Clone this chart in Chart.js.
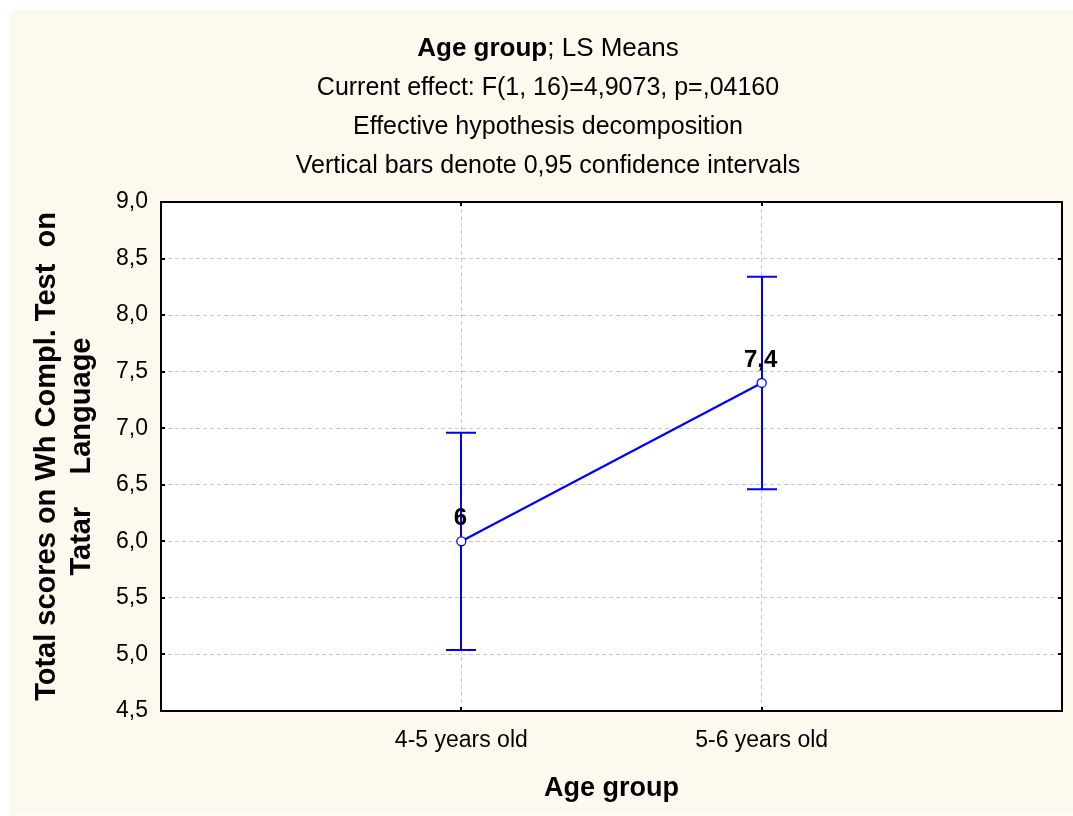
<!DOCTYPE html>
<html lang="en">
<head>
    <meta charset="UTF-8">
    <title>Age group; LS Means</title>
    <style type="text/css">
        html, body { margin: 0; padding: 0; background: #ffffff; }
        .chartBox { width: 1073px; height: 816px; }
    </style>
</head>
<body>
    <div class="chartBox">
        <canvas id="myChart" width="1073" height="816"></canvas>
    </div>

    <script src="https://cdn.jsdelivr.net/npm/chart.js"></script>

    <script>
        // data
        const categories = ['4-5 years old', '5-6 years old'];
        const means = [6.0, 7.4];
        const lower = [5.04, 6.46];
        const upper = [6.96, 8.34];
        const yTicks = [4.5, 5.0, 5.5, 6.0, 6.5, 7.0, 7.5, 8.0, 8.5, 9.0];
        const titleLines = [
          'Current effect: F(1, 16)=4,9073, p=,04160',
          'Effective hypothesis decomposition',
          'Vertical bars denote 0,95 confidence intervals'
        ];

        const fmt = v => v.toFixed(1).replace('.', ',');
        const font = '"Liberation Sans", Arial, sans-serif';

        const points = means.map((m, i) => ({x: i + 1, y: m}));

        // cream page, white plot area, frame, inner ticks, header, error bars, value labels
        const decor = {
          id: 'decor',
          beforeDraw(chart) {
            const c = chart.ctx, a = chart.chartArea;
            c.save();
            c.fillStyle = '#ffffff';
            c.fillRect(0, 0, chart.width, chart.height);
            c.fillStyle = '#fef9ee';
            c.fillRect(9, 10, chart.width - 9, chart.height - 11);
            c.fillStyle = '#ffffff';
            c.fillRect(a.left, a.top, a.right - a.left, a.bottom - a.top);
            c.restore();
          },
          beforeDatasetsDraw(chart) {
            const c = chart.ctx, xs = chart.scales.x, ys = chart.scales.y;
            c.save();
            c.strokeStyle = '#0000ff';
            c.lineWidth = 2;
            lower.forEach((lo, i) => {
              const px = Math.round(xs.getPixelForValue(i + 1));
              const yl = ys.getPixelForValue(lo), yu = ys.getPixelForValue(upper[i]);
              c.beginPath();
              c.moveTo(px, yl); c.lineTo(px, yu);
              c.moveTo(px - 15, yl); c.lineTo(px + 15, yl);
              c.moveTo(px - 15, yu); c.lineTo(px + 15, yu);
              c.stroke();
            });
            c.restore();
          },
          afterDatasetsDraw(chart) {
            const c = chart.ctx, xs = chart.scales.x, ys = chart.scales.y;
            c.save();
            c.fillStyle = '#000000';
            c.font = 'bold 24px ' + font;
            c.textAlign = 'center';
            c.textBaseline = 'middle';
            means.forEach((m, i) => {
              const label = Number.isInteger(m) ? String(m) : fmt(m);
              c.fillText(label, xs.getPixelForValue(i + 1) - 1, ys.getPixelForValue(m) - 23);
            });
            c.restore();
          },
          afterDraw(chart) {
            const c = chart.ctx, a = chart.chartArea, xs = chart.scales.x, ys = chart.scales.y;
            c.save();
            // frame
            c.strokeStyle = '#000000';
            c.lineWidth = 2;
            c.strokeRect(a.left, a.top, a.right - a.left, a.bottom - a.top);
            // small inner ticks
            c.beginPath();
            yTicks.forEach(v => {
              const py = Math.round(ys.getPixelForValue(v));
              c.moveTo(a.left, py); c.lineTo(a.left + 4, py);
              c.moveTo(a.right, py); c.lineTo(a.right - 4, py);
            });
            categories.forEach((_, i) => {
              const px = Math.round(xs.getPixelForValue(i + 1));
              c.moveTo(px, a.top); c.lineTo(px, a.top + 4);
              c.moveTo(px, a.bottom); c.lineTo(px, a.bottom - 4);
            });
            c.stroke();

            // header
            const cx = 548;
            c.fillStyle = '#000000';
            c.textBaseline = 'middle';
            const boldPart = 'Age group';
            const restPart = '; LS Means';
            c.font = '26px ' + font;
            const wRest = c.measureText(restPart).width;
            c.font = 'bold 26px ' + font;
            const wBold = c.measureText(boldPart).width;
            const x0 = cx - (wBold + wRest) / 2;
            c.textAlign = 'left';
            c.fillText(boldPart, x0, 49);
            c.font = '26px ' + font;
            c.fillText(restPart, x0 + wBold, 49);
            c.font = '25px ' + font;
            c.textAlign = 'center';
            titleLines.forEach((t, i) => c.fillText(t, cx, 88 + i * 39));
            c.restore();
          }
        };

        const ctx = document.getElementById('myChart');
        new Chart(ctx, {
          type: 'line',
          data: {
            datasets: [{
              data: points,
              borderColor: '#0000ff',
              borderWidth: 2.2,
              pointRadius: 4.5,
              pointBorderWidth: 1.3,
              pointBackgroundColor: '#ffffff',
              pointBorderColor: '#0000ff',
              tension: 0
            }]
          },
          options: {
            responsive: false,
            animation: false,
            layout: {
              padding: {left: 9, top: 202, right: 11, bottom: 0}
            },
            plugins: {
              legend: { display: false },
              tooltip: { enabled: false }
            },
            scales: {
              x: {
                type: 'linear',
                min: 0,
                max: categories.length + 1,
                afterBuildTicks(scale) {
                  scale.ticks = categories.map((_, i) => ({value: i + 1}));
                },
                afterFit(scale) { scale.height = 105; },
                ticks: {
                  color: '#000000',
                  padding: 16,
                  font: {family: font, size: 23},
                  callback: v => categories[v - 1] || ''
                },
                grid: { color: '#c8c8c8', lineWidth: 1, drawTicks: false },
                border: { display: false, dash: [4, 3] },
                title: {
                  display: true,
                  text: 'Age group',
                  color: '#000000',
                  font: {family: font, size: 27, weight: 'bold', lineHeight: 1.2},
                  padding: {top: 0, bottom: 11}
                }
              },
              y: {
                min: 4.5,
                max: 9.0,
                afterBuildTicks(scale) {
                  scale.ticks = yTicks.map(v => ({value: v}));
                },
                afterFit(scale) { scale.width = 152; },
                ticks: {
                  color: '#000000',
                  padding: 13,
                  font: {family: font, size: 23},
                  callback: v => fmt(v)
                },
                grid: { color: '#c8c8c8', lineWidth: 1, drawTicks: false },
                border: { display: false, dash: [4, 3] },
                title: {
                  display: true,
                  text: ['Total scores on Wh Compl. Test  on', 'Tatar    Language'],
                  color: '#000000',
                  font: {family: font, size: 29, weight: 'bold', lineHeight: 1.2},
                  padding: {top: 21, bottom: 0}
                }
              }
            }
          },
          plugins: [decor]
        });
    </script>
</body>
</html>
